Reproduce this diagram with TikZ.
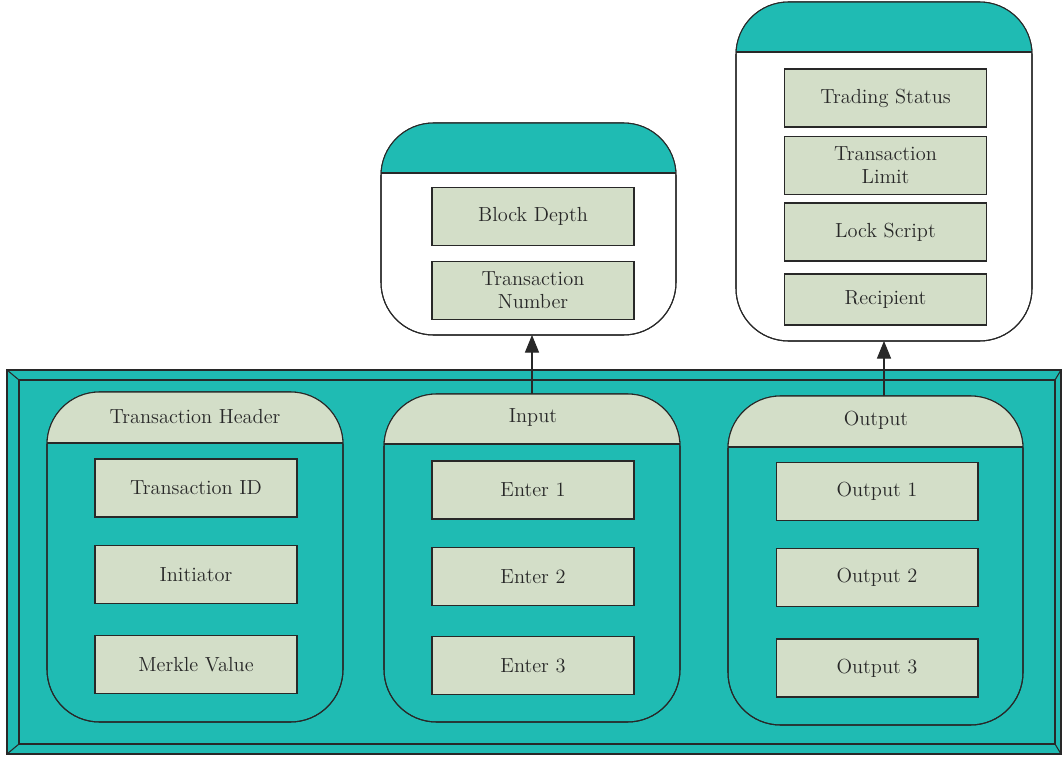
\documentclass[tikz,border=0pt]{standalone}
\usepackage{tikz}
\usetikzlibrary{arrows.meta}
\definecolor{tealfill}{RGB}{31,187,179}
\definecolor{sage}{RGB}{211,222,200}
\definecolor{edge}{RGB}{40,40,40}

\begin{document}
\begin{tikzpicture}[x=0.02cm,y=-0.02cm,line width=0.6pt,
  item/.style={draw=edge,fill=sage,text=edge,minimum width=4.04cm,minimum height=1.16cm,
    align=center,inner sep=1pt,font=\fontsize{11.6}{13.2}\selectfont},
  title/.style={text=edge,font=\fontsize{11.6}{13.2}\selectfont},
  shell/.style={inner sep=0pt,outer sep=0pt},
  link/.style={edge,-{Triangle[length=10pt,width=8pt]}}]

\useasboundingbox (0,0) rectangle (1062,757);

% outer frame
\filldraw[draw=edge,fill=tealfill] (7,370) rectangle (1061,754);
\draw[edge] (19,380) rectangle (1055,744);
\draw[edge] (7,370) -- (19,380) (1061,370) -- (1055,380) (7,754) -- (19,744) (1061,754) -- (1055,744);

% transaction header panel
\filldraw[draw=edge,fill=tealfill,rounded corners=1.05cm] (47,392) rectangle (343,722);
\begin{scope}
  \clip (47,392) rectangle (343,443);
  \fill[sage,rounded corners=1.05cm] (47,392) rectangle (343,722);
\end{scope}
\draw[edge,rounded corners=1.05cm] (47,392) rectangle (343,722);
\draw[edge] (47,443) -- (343,443);

% input panel
\filldraw[draw=edge,fill=tealfill,rounded corners=1.05cm] (384,394) rectangle (680,722);
\begin{scope}
  \clip (384,394) rectangle (680,444);
  \fill[sage,rounded corners=1.05cm] (384,394) rectangle (680,722);
\end{scope}
\draw[edge,rounded corners=1.05cm] (384,394) rectangle (680,722);
\draw[edge] (384,444) -- (680,444);

% output panel
\filldraw[draw=edge,fill=tealfill,rounded corners=1.05cm] (728,396) rectangle (1023,725);
\begin{scope}
  \clip (728,396) rectangle (1023,447);
  \fill[sage,rounded corners=1.05cm] (728,396) rectangle (1023,725);
\end{scope}
\draw[edge,rounded corners=1.05cm] (728,396) rectangle (1023,725);
\draw[edge] (728,447) -- (1023,447);

% block depth box
\filldraw[draw=edge,fill=white,rounded corners=1.05cm] (381,123) rectangle (676,335);
\begin{scope}
  \clip (381,123) rectangle (676,173);
  \fill[tealfill,rounded corners=1.05cm] (381,123) rectangle (676,335);
\end{scope}
\draw[edge,rounded corners=1.05cm] (381,123) rectangle (676,335);
\draw[edge] (381,173) -- (676,173);

% trading status box
\filldraw[draw=edge,fill=white,rounded corners=1.05cm] (736,2) rectangle (1032,341);
\begin{scope}
  \clip (736,2) rectangle (1032,52);
  \fill[tealfill,rounded corners=1.05cm] (736,2) rectangle (1032,341);
\end{scope}
\draw[edge,rounded corners=1.05cm] (736,2) rectangle (1032,341);
\draw[edge] (736,52) -- (1032,52);

% shells for the links
\node[shell,minimum width=5.92cm,minimum height=6.56cm] (inpanel) at (532,558) {};
\node[shell,minimum width=5.9cm,minimum height=6.58cm] (outpanel) at (875.5,560.5) {};
\node[shell,minimum width=5.9cm,minimum height=4.24cm] (depthbox) at (528.5,229) {};
\node[shell,minimum width=5.92cm,minimum height=6.78cm] (statusbox) at (884,171.5) {};

% titles
\node[title] (hdrtitle) at (195,417) {Transaction Header};
\node[title] (intitle) at (533,418) {Input};
\node[title] (outtitle) at (876,420) {Output};

% items
\node[item] (txid) at (196,488) {Transaction ID};
\node[item] (initiator) at (196,574.5) {Initiator};
\node[item] (merkle) at (196,664.5) {Merkle Value};

\node[item] (enter1) at (533,490) {Enter 1};
\node[item] (enter2) at (533,576.5) {Enter 2};
\node[item] (enter3) at (533,665.5) {Enter 3};

\node[item] (out1) at (877,491.5) {Output 1};
\node[item] (out2) at (877,577.5) {Output 2};
\node[item] (out3) at (877,668) {Output 3};

\node[item] (depth) at (533,216.5) {Block Depth};
\node[item] (txnum) at (533,290.5) {Transaction\\Number};

\node[item] (status) at (885.5,98) {Trading Status};
\node[item] (limit) at (885.5,165.5) {Transaction\\Limit};
\node[item] (lock) at (885.5,232) {Lock Script};
\node[item,minimum height=1.02cm] (recip) at (885.5,299.5) {Recipient};

% links
\draw[link] (inpanel.north) -- (inpanel.north |- depthbox.south);
\draw[link] (statusbox.south |- outpanel.north) -- (statusbox.south);

\end{tikzpicture}
\end{document}
